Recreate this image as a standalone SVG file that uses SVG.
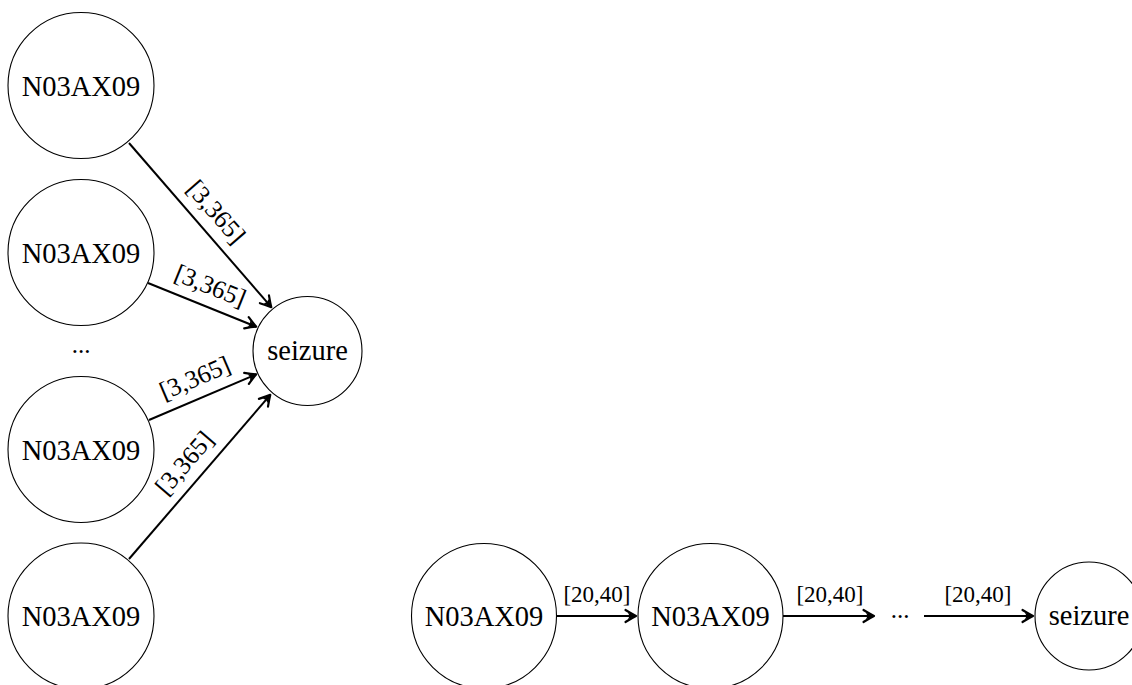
<svg xmlns="http://www.w3.org/2000/svg" width="1132" height="685" viewBox="0 0 1132 685">
<style>
.node circle{fill:#fff;stroke:#000;stroke-width:1.1}
text{font-family:'Liberation Serif','Times New Roman',Times,serif;fill:#000;text-anchor:middle}
.nt{font-size:28.5px}
.lbl{font-size:25.5px}
.hl{font-size:23px}
.dots{font-size:25px}
.edge{fill:none;stroke:#000;stroke-width:2;marker-end:url(#arr)}
</style>
<defs>
<marker id="arr" viewBox="-14 -9 16 18" markerWidth="16" markerHeight="18" refX="0" refY="0" orient="auto" markerUnits="userSpaceOnUse">
<path d="M-10.5,-6 Q-4,-2 0,0 Q-4,2 -10.5,6" fill="none" stroke="#000" stroke-width="2.2" stroke-linecap="round" stroke-linejoin="round"/>
<path d="M0,0 L-8,-3.2 L-6.5,0 L-8,3.2 Z" fill="#000"/>
</marker>
</defs>
<rect width="1132" height="685" fill="#fff"/>
<g id="connectors">
<line class="edge" x1="129" y1="143" x2="271.3" y2="307.2"/>
<line class="edge" x1="148" y1="283" x2="256.2" y2="326.7"/>
<line class="edge" x1="149" y1="420" x2="256.2" y2="374.3"/>
<line class="edge" x1="129" y1="559" x2="270.3" y2="394.8"/>
<line class="edge" x1="556" y1="616" x2="636" y2="616"/>
<line class="edge" x1="783" y1="616" x2="874" y2="616"/>
<line class="edge" x1="924" y1="616" x2="1033" y2="616"/>
<g transform="translate(200.5,225.5) rotate(49.1)"><text class="lbl" x="0" y="-12.3">[3,365]</text></g>
<g transform="translate(202.5,305) rotate(22)"><text class="lbl" x="0" y="-12.3">[3,365]</text></g>
<g transform="translate(203,397) rotate(-23)"><text class="lbl" x="0" y="-12.3">[3,365]</text></g>
<g transform="translate(200,476.5) rotate(-49.3)"><text class="lbl" x="0" y="-12.3">[3,365]</text></g>
<text class="hl" x="597" y="602">[20,40]</text>
<text class="hl" x="830" y="602">[20,40]</text>
<text class="hl" x="978" y="602">[20,40]</text>
</g>
<g id="n1" class="node"><circle cx="81" cy="85.5" r="73"/><text class="nt" x="81" y="95.5">N03AX09</text></g>
<g id="n2" class="node"><circle cx="81" cy="252.5" r="73"/><text class="nt" x="81" y="262.5">N03AX09</text></g>
<g id="dotsL"><text class="dots" x="81" y="353">...</text></g>
<g id="n3" class="node"><circle cx="81" cy="449.5" r="73"/><text class="nt" x="81" y="459.5">N03AX09</text></g>
<g id="n4" class="node"><circle cx="81" cy="616" r="73"/><text class="nt" x="81" y="626">N03AX09</text></g>
<g id="s1" class="node"><circle cx="307.5" cy="351" r="54.5"/><text class="nt" x="307.5" y="360">seizure</text></g>
<g id="b1" class="node"><circle cx="484" cy="616" r="72.5"/><text class="nt" x="484" y="626">N03AX09</text></g>
<g id="b2" class="node"><circle cx="710.5" cy="616" r="72.5"/><text class="nt" x="710.5" y="626">N03AX09</text></g>
<g id="dotsB"><text class="dots" x="900" y="618">...</text></g>
<g id="s2" class="node"><circle cx="1089" cy="616" r="54"/><text class="nt" x="1089" y="625">seizure</text></g>
</svg>
